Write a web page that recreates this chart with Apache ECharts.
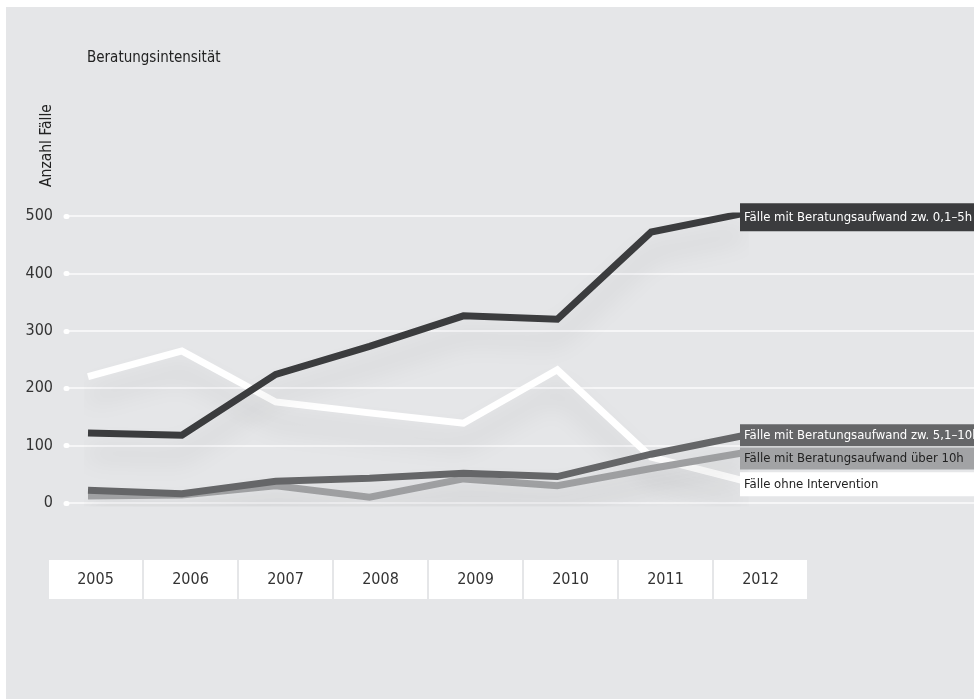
<!DOCTYPE html>
<html>
<head>
<meta charset="utf-8">
<script src="https://cdn.jsdelivr.net/npm/echarts@6/dist/echarts.min.js"></script>
<style>
  html, body { margin: 0; padding: 0; background: #fff; }
  #chart { position: absolute; left: 6px; top: 7px; width: 968px; height: 692px; background: #e5e6e8; }
</style>
</head>
<body>
<div id="chart"></div>
<script>
const years = ['2005', '2006', '2007', '2008', '2009', '2010', '2011', '2012']
const yTicks = [0, 100, 200, 300, 400, 500]

// Fälle pro Jahr
const aufwand01bis5 = [122, 118, 224, 273, 326, 320, 472, 505]
const aufwand51bis10 = [22, 16, 38, 43, 52, 46, 85, 118]
const aufwandUeber10 = [12, 14, 30, 10, 42, 30, 60, 88]
const ohneIntervention = [220, 265, 176, 157, 139, 232, 80, 38]

const FONT = '"DejaVu Sans Condensed", "Liberation Sans Narrow", "Liberation Sans", sans-serif'

// chart div is offset by (6,7) in the page
const OX = 6, OY = 7

const chart = echarts.init(document.getElementById('chart'), null, { renderer: 'canvas' })

function lineSeries(name, data, color, textColor, offsetY, pad) {
  return {
    name,
    type: 'line',
    xAxisIndex: 0,
    yAxisIndex: 0,
    data,
    symbol: 'none',
    lineStyle: {
      color,
      width: 7,
      cap: 'butt',
      join: 'miter',
      shadowColor: 'rgba(0,0,0,0.13)',
      shadowBlur: 26,
      shadowOffsetY: 20,
    },
    endLabel: {
      show: true,
      formatter: name,
      distance: -5,
      offset: [0, offsetY],
      backgroundColor: color,
      color: textColor,
      fontFamily: FONT,
      fontSize: 13,
      lineHeight: 17,
      padding: [pad, 300, pad - 1, 4],
    },
    emphasis: { disabled: true },
    animation: false,
  }
}

chart.setOption({
  animation: false,
  title: {
    text: 'Beratungsintensität',
    left: 82 - OX,
    top: 46 - OY,
    textStyle: { color: '#222', fontFamily: FONT, fontSize: 15, fontWeight: 'normal' },
  },
  graphic: [
    {
      type: 'text',
      x: 39 - OX,
      y: 187 - OY,
      rotation: Math.PI / 2,
      style: { text: 'Anzahl Fälle', fill: '#222', font: '15.5px ' + FONT },
    },
  ],
  grid: [
    // lines
    { left: 88 - OX, right: 229, top: 216 - OY, height: 287 },
    // gridlines + y labels
    { left: 67 - OX, right: 0, top: 216 - OY, height: 287 },
    // year boxes
    { left: 48 - OX, width: 760, top: 560 - OY, height: 0 },
  ],
  xAxis: [
    { type: 'category', gridIndex: 0, data: years, boundaryGap: false, show: false },
    { type: 'category', gridIndex: 1, data: years, show: false },
    {
      type: 'category',
      gridIndex: 2,
      data: years,
      position: 'bottom',
      axisLine: { show: false },
      axisTick: { show: false },
      axisLabel: {
        interval: 0,
        margin: 0,
        hideOverlap: false,
        formatter: '{b|{value}}',
        rich: {
          b: {
            width: 93,
            height: 39,
            lineHeight: 39,
            align: 'center',
            backgroundColor: '#fff',
            color: '#333',
            fontFamily: FONT,
            fontSize: 16,
          },
        },
      },
    },
  ],
  yAxis: [
    { type: 'value', gridIndex: 0, min: 0, max: 500, show: false },
    {
      type: 'value',
      gridIndex: 1,
      min: yTicks[0],
      max: yTicks[yTicks.length - 1],
      interval: 100,
      axisLine: { show: false },
      axisTick: { show: true, length: 1, lineStyle: { color: '#fff', width: 5, cap: 'round' } },
      axisLabel: { color: '#333', fontFamily: FONT, fontSize: 16, margin: 14 },
      splitLine: { lineStyle: { color: '#fbfbfc', width: 1.5 } },
    },
    { type: 'value', gridIndex: 2, show: false },
  ],
  series: [
    lineSeries('Fälle ohne Intervention', ohneIntervention, '#ffffff', '#222', 3, 4),
    lineSeries('Fälle mit Beratungsaufwand über 10h', aufwandUeber10, '#a2a3a5', '#222', 6, 3),
    lineSeries('Fälle mit Beratungsaufwand zw. 5,1–10h', aufwand51bis10, '#656668', '#fff', 0, 3),
    lineSeries('Fälle mit Beratungsaufwand zw. 0,1–5h', aufwand01bis5, '#3b3c3e', '#fff', 4, 6),
  ],
})
</script>
</body>
</html>
